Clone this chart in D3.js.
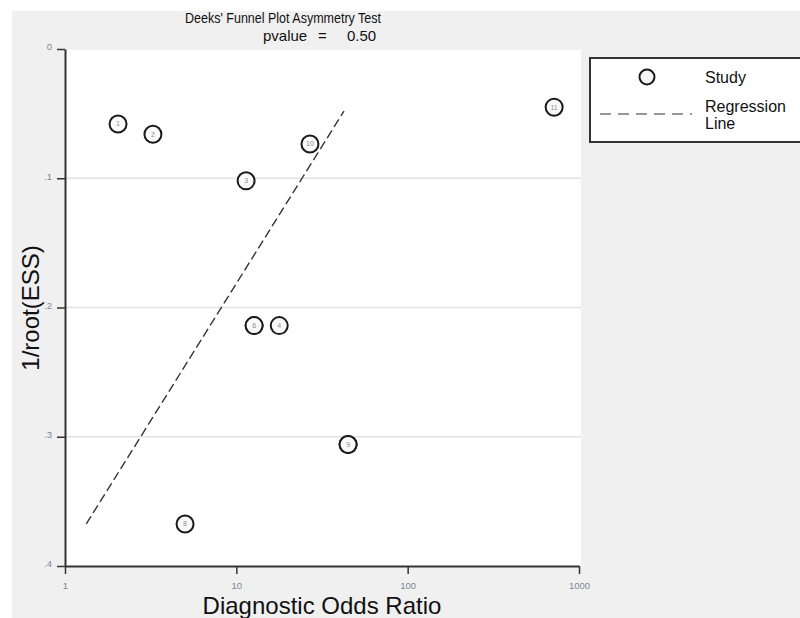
<!DOCTYPE html>
<html>
<head>
<meta charset="utf-8">
<script src="https://cdn.jsdelivr.net/npm/d3@7"></script>
<style>
  body { margin: 0; background: #fff; }
  svg { display: block; font-family: "Liberation Sans", Arial, sans-serif; }
</style>
</head>
<body>
<svg id="chart" width="800" height="618"></svg>
<script>
// study points: diagnostic odds ratio vs 1/root(ESS)
const studyIds = ["1", "2", "3", "4", "5", "6", "7", "8", "9", "10", "11"];
const studyDor = [2.04, 3.26, 11.4, 17.8, 12.7, 12.7, 44.9, 5.02, 44.9, 26.9, 716];
const studyInvEss = [0.058, 0.066, 0.102, 0.214, 0.214, 0.214, 0.306, 0.3675, 0.306, 0.0735, 0.045];

// regression line end points
const regDor = [1.33, 42.5];
const regInvEss = [0.3675, 0.048];

const xTicks = [1, 10, 100, 1000];
const yTicks = [0, 0.1, 0.2, 0.3, 0.4];
const yTickLabels = ["0", ".1", ".2", ".3", ".4"];

const svg = d3.select("#chart");

// grey panel behind everything
svg.append("rect")
    .attr("x", 12).attr("y", 11)
    .attr("width", 788).attr("height", 607)
    .attr("fill", "#f0f0f0");

let x = d3.scaleLog().domain([1, 1000]).range([65, 579]);
let y = d3.scaleLinear().domain([0, 0.4]).range([49, 566]);

// white plot region
svg.append("rect")
    .attr("x", 65).attr("y", 50)
    .attr("width", 516).attr("height", 516)
    .attr("fill", "#fff");

// grid lines
svg.append("g")
    .selectAll("line")
    .data(yTicks.slice(1, 4))
    .enter()
    .append("line")
        .attr("x1", 65).attr("x2", 581)
        .attr("y1", d => y(d)).attr("y2", d => y(d))
        .attr("stroke", "#e2e2e2")
        .attr("stroke-width", 1.5);

// axes
let yAxis = svg.append("g")
    .attr("transform", "translate(65,0)")
    .call(d3.axisLeft(y).tickValues(yTicks).tickFormat((d, i) => yTickLabels[i]).tickSize(8).tickSizeOuter(0));

let xAxis = svg.append("g")
    .attr("transform", "translate(0,566)")
    .call(d3.axisBottom(x).tickValues(xTicks).tickFormat(d3.format("d")).tickSize(8).tickSizeOuter(0));

[xAxis, yAxis].forEach(ax => {
    ax.select(".domain").attr("stroke", "#333").attr("stroke-width", 2);
    ax.selectAll(".tick line").attr("stroke", "#333").attr("stroke-width", 1.5);
    ax.selectAll(".tick text")
        .attr("fill", "#7a8699")
        .style("font-size", "9.5px")
        .style("font-family", "Liberation Sans, Arial, sans-serif");
});
xAxis.selectAll(".tick text").attr("dy", "1.3em");
yAxis.selectAll(".tick text").attr("x", -13).attr("dy", "0.1em");

// regression line
svg.append("line")
    .attr("x1", x(regDor[0])).attr("y1", y(regInvEss[0]))
    .attr("x2", x(regDor[1])).attr("y2", y(regInvEss[1]))
    .attr("stroke", "#333")
    .attr("stroke-width", 1.4)
    .attr("stroke-dasharray", "9,4");

// study markers
let pts = svg.append("g")
    .selectAll("g")
    .data(studyIds)
    .enter()
    .append("g")
        .attr("transform", (d, i) => "translate(" + x(studyDor[i]) + "," + y(studyInvEss[i]) + ")");

pts.append("circle")
    .attr("r", 8.5)
    .attr("fill", "#fafafa")
    .attr("stroke", "#1a1a1a")
    .attr("stroke-width", 2);

pts.append("text")
    .attr("text-anchor", "middle")
    .attr("dy", "0.35em")
    .attr("fill", "#8a8a9a")
    .style("font-size", "7px")
    .text(d => d);

// titles
svg.append("text")
    .attr("x", 185).attr("y", 23)
    .attr("textLength", 196)
    .attr("lengthAdjust", "spacingAndGlyphs")
    .style("font-size", "14.5px")
    .attr("fill", "#111")
    .text("Deeks' Funnel Plot Asymmetry Test");

let pv = svg.append("g").style("font-size", "15px").attr("fill", "#111");
pv.append("text").attr("x", 263).attr("y", 41).text("pvalue");
pv.append("text").attr("x", 318).attr("y", 41).text("=");
pv.append("text").attr("x", 347).attr("y", 41).text("0.50");

svg.append("text")
    .attr("x", 322).attr("y", 614)
    .attr("text-anchor", "middle")
    .style("font-size", "24px")
    .attr("fill", "#111")
    .text("Diagnostic Odds Ratio");

svg.append("text")
    .attr("transform", "translate(39,308) rotate(-90)")
    .attr("text-anchor", "middle")
    .style("font-size", "24px")
    .attr("fill", "#111")
    .text("1/root(ESS)");

// legend
let legend = svg.append("g");
legend.append("rect")
    .attr("x", 590).attr("y", 58)
    .attr("width", 215).attr("height", 84)
    .attr("fill", "#fff")
    .attr("stroke", "#333")
    .attr("stroke-width", 2);

legend.append("circle")
    .attr("cx", 647).attr("cy", 77)
    .attr("r", 7.5)
    .attr("fill", "#f5f5f5")
    .attr("stroke", "#1a1a1a")
    .attr("stroke-width", 2);

legend.append("line")
    .attr("x1", 600).attr("x2", 692)
    .attr("y1", 114).attr("y2", 114)
    .attr("stroke", "#777")
    .attr("stroke-width", 1.5)
    .attr("stroke-dasharray", "11,7");

legend.append("text").attr("x", 705).attr("y", 83)
    .style("font-size", "16px").attr("fill", "#111").text("Study");
legend.append("text").attr("x", 705).attr("y", 112)
    .style("font-size", "16px").attr("fill", "#111").text("Regression");
legend.append("text").attr("x", 705).attr("y", 129)
    .style("font-size", "16px").attr("fill", "#111").text("Line");
</script>
</body>
</html>
